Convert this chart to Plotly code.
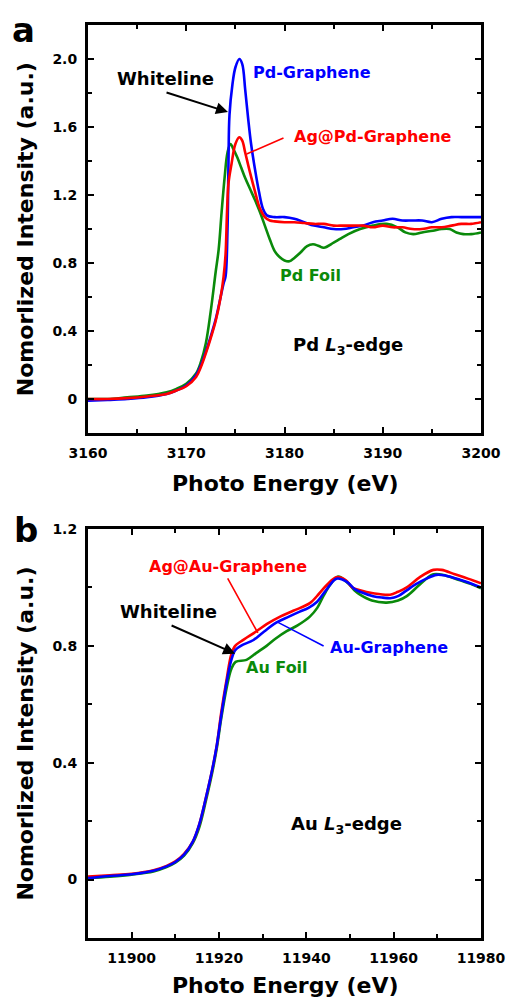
import plotly.graph_objects as go
from plotly.subplots import make_subplots

# ---------------- Panel a: Pd L3-edge ----------------
pd_graphene_x = [3160, 3162, 3164, 3166, 3168, 3169, 3170, 3171, 3171.5, 3172, 3172.5, 3173, 3173.5, 3173.8,
                 3174.0, 3174.2, 3174.3, 3174.4, 3174.7, 3175.0, 3175.4, 3175.7, 3176.0, 3176.3, 3176.6, 3177.0,
                 3177.4, 3177.8, 3178.2, 3179, 3180, 3181, 3182, 3183, 3184, 3185, 3186, 3187, 3188, 3189, 3190,
                 3191, 3192, 3193, 3194, 3195, 3196, 3197, 3198, 3199, 3200]
pd_graphene_y = [-0.01, -0.005, 0.0, 0.01, 0.03, 0.05, 0.08, 0.14, 0.2, 0.28, 0.37, 0.47, 0.6, 0.68,
                 0.72, 1.0, 1.4, 1.67, 1.85, 1.95, 2.0, 1.97, 1.82, 1.65, 1.5, 1.35,
                 1.22, 1.12, 1.08, 1.07, 1.07, 1.06, 1.04, 1.02, 1.01, 1.0, 1.0, 1.01, 1.02, 1.04, 1.05,
                 1.06, 1.05, 1.05, 1.05, 1.04, 1.06, 1.07, 1.07, 1.07, 1.07]

ag_pd_graphene_x = [3160, 3162, 3164, 3166, 3168, 3169, 3170, 3171, 3171.5, 3172, 3172.5, 3173, 3173.5, 3173.8,
                    3174.0, 3174.15, 3174.3, 3174.6, 3175.0, 3175.4, 3175.7, 3176.0, 3176.5, 3177.0, 3177.5,
                    3178, 3178.5, 3179, 3180, 3181, 3182, 3183, 3184, 3185, 3186, 3187, 3188, 3189, 3190, 3191,
                    3192, 3193, 3194, 3195, 3196, 3197, 3198, 3199, 3200]
ag_pd_graphene_y = [0.0, 0.0, 0.005, 0.015, 0.03, 0.05, 0.075, 0.13, 0.19, 0.27, 0.36, 0.46, 0.6, 0.72,
                    0.85, 1.1, 1.27, 1.38, 1.5, 1.54, 1.52, 1.45, 1.33, 1.22, 1.12,
                    1.07, 1.05, 1.045, 1.04, 1.04, 1.035, 1.03, 1.03, 1.02, 1.02, 1.02, 1.02, 1.01, 1.02, 1.01,
                    1.01, 1.0, 1.0, 1.01, 1.01, 1.02, 1.03, 1.03, 1.04]

pd_foil_x = [3160, 3162, 3164, 3166, 3168, 3169, 3170, 3171, 3171.5, 3172, 3172.5, 3173, 3173.3, 3173.6,
             3173.9, 3174.2, 3174.5, 3174.8, 3175.2, 3175.6, 3176, 3176.5, 3177, 3177.5, 3178, 3178.5, 3179,
             3179.5, 3180, 3180.5, 3181, 3181.6, 3182.3, 3182.9, 3183.5, 3184, 3185, 3185.6, 3186.5, 3187.7,
             3189, 3190.4, 3191.5, 3192.3, 3193.1, 3194, 3195.1, 3196, 3196.8, 3197.5, 3198.2, 3199, 3200]
pd_foil_y = [0.0, 0.0, 0.01, 0.02, 0.04, 0.06, 0.09, 0.15, 0.22, 0.33, 0.52, 0.75, 0.88, 1.1,
             1.3, 1.45, 1.5, 1.47, 1.42, 1.36, 1.3, 1.235, 1.17, 1.1, 1.02, 0.94, 0.87,
             0.835, 0.815, 0.81, 0.83, 0.86, 0.9, 0.91, 0.9, 0.89, 0.92, 0.94, 0.97, 1.0,
             1.02, 1.03, 1.01, 0.98, 0.97, 0.98, 0.99, 1.0, 1.0, 0.98, 0.97, 0.97, 0.98]

# ---------------- Panel b: Au L3-edge ----------------
au_graphene_x = [11890, 11895, 11900, 11905, 11908, 11910, 11912, 11914, 11915.5, 11917, 11918.5, 11919.5,
                 11920.5, 11921.8, 11922.8, 11923.7, 11925, 11927.9, 11930, 11933.2, 11936, 11938.5, 11940.5,
                 11942.4, 11944.5, 11946.9, 11949.2, 11951, 11952.3, 11955.3, 11957.5, 11959.2, 11961, 11963,
                 11965, 11967.5, 11969.8, 11972, 11975.2, 11978, 11980]
au_graphene_y = [0.005, 0.012, 0.018, 0.03, 0.045, 0.06, 0.085, 0.13, 0.19, 0.28, 0.38, 0.46,
                 0.56, 0.68, 0.75, 0.785, 0.80, 0.82, 0.845, 0.88, 0.90, 0.917, 0.93,
                 0.95, 0.99, 1.03, 1.02, 0.995, 0.985, 0.97, 0.965, 0.963, 0.97, 0.99,
                 1.01, 1.03, 1.043, 1.04, 1.026, 1.012, 1.0]

ag_au_graphene_x = [11890, 11895, 11900, 11905, 11908, 11910, 11912, 11914, 11915.5, 11917, 11918.5, 11919.5,
                    11920.5, 11921.8, 11922.8, 11923.7, 11925, 11928.6, 11931, 11934, 11937, 11940.8, 11943,
                    11944.8, 11946.9, 11949, 11950.5, 11952.3, 11955.3, 11959.2, 11961, 11963, 11966, 11969.1,
                    11971, 11974, 11977, 11980]
ag_au_graphene_y = [0.01, 0.015, 0.02, 0.032, 0.047, 0.062, 0.088, 0.13, 0.19, 0.28, 0.38, 0.46,
                    0.57, 0.69, 0.77, 0.80, 0.815, 0.85, 0.875, 0.90, 0.92, 0.946, 0.98,
                    1.01, 1.035, 1.025, 1.0, 0.99, 0.98, 0.975, 0.985, 1.0, 1.035, 1.06,
                    1.06, 1.045, 1.03, 1.014]

au_foil_x = [11890, 11895, 11900, 11905, 11908, 11910, 11912, 11914, 11915.5, 11917, 11918.5, 11919.5,
             11920.5, 11921.8, 11922.8, 11923.8, 11926.3, 11928.5, 11930.9, 11933, 11935.5, 11938, 11940.8,
             11942.5, 11943.9, 11945.5, 11947.3, 11949.5, 11951, 11952.3, 11955, 11958.4, 11961, 11963,
             11966, 11969.1, 11972, 11975, 11978, 11980]
au_foil_y = [0.005, 0.01, 0.017, 0.028, 0.043, 0.058, 0.082, 0.125, 0.18, 0.27, 0.37, 0.45,
             0.55, 0.66, 0.72, 0.745, 0.752, 0.775, 0.80, 0.825, 0.85, 0.87, 0.90,
             0.93, 0.97, 1.01, 1.037, 1.015, 0.99, 0.975, 0.955, 0.948, 0.955, 0.97,
             1.01, 1.045, 1.04, 1.025, 1.01, 0.997]

# tick labels
a_xticks = [3160, 3170, 3180, 3190, 3200]
a_xticktext = ["3160", "3170", "3180", "3190", "3200"]
a_yticks = [0, 0.4, 0.8, 1.2, 1.6, 2.0]
a_yticktext = ["0", "0.4", "0.8", "1.2", "1.6", "2.0"]
b_xticks = [11900, 11920, 11940, 11960, 11980]
b_xticktext = ["11900", "11920", "11940", "11960", "11980"]
b_yticks = [0, 0.4, 0.8, 1.2]
b_yticktext = ["0", "0.4", "0.8", "1.2"]

BLUE = "#0000ff"
RED = "#ff0000"
GREEN = "#0a8a0a"
FONT = "DejaVu Sans"

fig = make_subplots(rows=2, cols=1, vertical_spacing=0.105)

lw = 2.6
fig.add_trace(go.Scatter(x=pd_foil_x, y=pd_foil_y, mode="lines", line=dict(color=GREEN, width=lw),
                         name="Pd Foil", line_shape="spline"), row=1, col=1)
fig.add_trace(go.Scatter(x=pd_graphene_x, y=pd_graphene_y, mode="lines", line=dict(color=BLUE, width=lw),
                         name="Pd-Graphene", line_shape="spline"), row=1, col=1)
fig.add_trace(go.Scatter(x=ag_pd_graphene_x, y=ag_pd_graphene_y, mode="lines", line=dict(color=RED, width=lw),
                         name="Ag@Pd-Graphene", line_shape="spline"), row=1, col=1)

fig.add_trace(go.Scatter(x=au_foil_x, y=au_foil_y, mode="lines", line=dict(color=GREEN, width=lw),
                         name="Au Foil", line_shape="spline"), row=2, col=1)
fig.add_trace(go.Scatter(x=ag_au_graphene_x, y=ag_au_graphene_y, mode="lines", line=dict(color=RED, width=lw),
                         name="Ag@Au-Graphene", line_shape="spline"), row=2, col=1)
fig.add_trace(go.Scatter(x=au_graphene_x, y=au_graphene_y, mode="lines", line=dict(color=BLUE, width=lw),
                         name="Au-Graphene", line_shape="spline"), row=2, col=1)

axis_common = dict(showgrid=False, zeroline=False, showline=True, linecolor="black", linewidth=3,
                   mirror="allticks", ticks="inside", ticklen=6, tickwidth=2, tickcolor="black",
                   tickfont=dict(family=FONT, size=14, color="black", weight="bold"),
                   ticklabelstandoff=5, automargin=False)

fig.update_xaxes(**axis_common)
fig.update_yaxes(**axis_common)

fig.update_xaxes(range=[3160, 3200], tickvals=a_xticks, ticktext=a_xticktext,
                 minor=dict(dtick=5, tick0=3160, ticks="inside", ticklen=4, tickwidth=2, tickcolor="black"),
                 row=1, col=1)
fig.update_yaxes(range=[-0.2, 2.2], tickvals=a_yticks, ticktext=a_yticktext,
                 minor=dict(dtick=0.2, tick0=0, ticks="inside", ticklen=4, tickwidth=2, tickcolor="black"),
                 row=1, col=1)
fig.update_xaxes(range=[11890, 11980], tickvals=b_xticks, ticktext=b_xticktext,
                 minor=dict(dtick=10, tick0=11890, ticks="inside", ticklen=4, tickwidth=2, tickcolor="black"),
                 row=2, col=1)
fig.update_yaxes(range=[-0.2, 1.2], tickvals=b_yticks, ticktext=b_yticktext,
                 minor=dict(dtick=0.2, tick0=0, ticks="inside", ticklen=4, tickwidth=2, tickcolor="black"),
                 row=2, col=1)

fig.update_layout(xaxis=dict(domain=[0, 1]), yaxis=dict(domain=[0.5531, 1.0]),
                  xaxis2=dict(domain=[0, 1]), yaxis2=dict(domain=[0.0, 0.448]))


def txt(text, x, y, color, size, xref="x", yref="y"):
    fig.add_annotation(text=text, x=x, y=y, xref=xref, yref=yref, showarrow=False,
                       font=dict(family=FONT, size=size, color=color, weight="bold"),
                       xanchor="center", yanchor="middle")


def arrow(x0, y0, x1, y1, color, head, xref="x", yref="y"):
    fig.add_annotation(text="", x=x1, y=y1, ax=x0, ay=y0, xref=xref, yref=yref, axref=xref, ayref=yref,
                       showarrow=True, arrowhead=head, arrowsize=1.2, arrowwidth=2 if head else 1.6,
                       arrowcolor=color, standoff=0, startstandoff=0)

# panel a annotations
txt("Whiteline", 3167.84, 1.888, "black", 18)
arrow(3167.84, 1.806, 3174.25, 1.688, "black", 2)
txt("Pd-Graphene", 3182.8, 1.918, BLUE, 16)
txt("Ag@Pd-Graphene", 3189.0, 1.547, RED, 16)
arrow(3180.05, 1.539, 3176.15, 1.441, RED, 0)
txt("Pd Foil", 3182.6, 0.729, GREEN, 16)
txt("Pd <i>L</i><sub>3</sub>-edge", 3186.5, 0.312, "black", 18)

# panel b annotations
txt("Ag@Au-Graphene", 11922.06, 1.070, RED, 16, "x2", "y2")
arrow(11921.8, 1.036, 11928.9, 0.844, RED, 0, "x2", "y2")
txt("Whiteline", 11908.5, 0.916, "black", 18, "x2", "y2")
arrow(11908.8, 0.872, 11923.7, 0.773, "black", 2, "x2", "y2")
txt("Au-Graphene", 11958.9, 0.793, BLUE, 16, "x2", "y2")
arrow(11944.3, 0.797, 11933.3, 0.882, BLUE, 0, "x2", "y2")
txt("Au Foil", 11933.3, 0.725, GREEN, 16, "x2", "y2")
txt("Au <i>L</i><sub>3</sub>-edge", 11949.1, 0.188, "black", 18, "x2", "y2")

# axis titles and panel letters (paper coordinates)
txt("Photo Energy (eV)", 0.5, 0.498, "black", 22, "paper", "paper")
txt("Photo Energy (eV)", 0.5, -0.0515, "black", 22, "paper", "paper")
fig.add_annotation(text="Nomorlized Intensity (a.u.)", x=-0.160, y=0.7765, xref="paper", yref="paper",
                   showarrow=False, textangle=-90, xanchor="center", yanchor="middle",
                   font=dict(family=FONT, size=22, color="black", weight="bold"))
fig.add_annotation(text="Nomorlized Intensity (a.u.)", x=-0.160, y=0.224, xref="paper", yref="paper",
                   showarrow=False, textangle=-90, xanchor="center", yanchor="middle",
                   font=dict(family=FONT, size=22, color="black", weight="bold"))
txt("a", -0.163, 0.995, "black", 34, "paper", "paper")
txt("b", -0.158, 0.447, "black", 34, "paper", "paper")

fig.update_layout(width=508, height=999, showlegend=False,
                  plot_bgcolor="white", paper_bgcolor="white",
                  margin=dict(l=88, r=27, t=25, b=61))

# remove the default page margin so the figure fills the 508x999 window exactly
fig.write_html("out.html", config={"displayModeBar": False},
               post_script="document.body.style.margin='0';document.body.style.overflow='hidden';")
